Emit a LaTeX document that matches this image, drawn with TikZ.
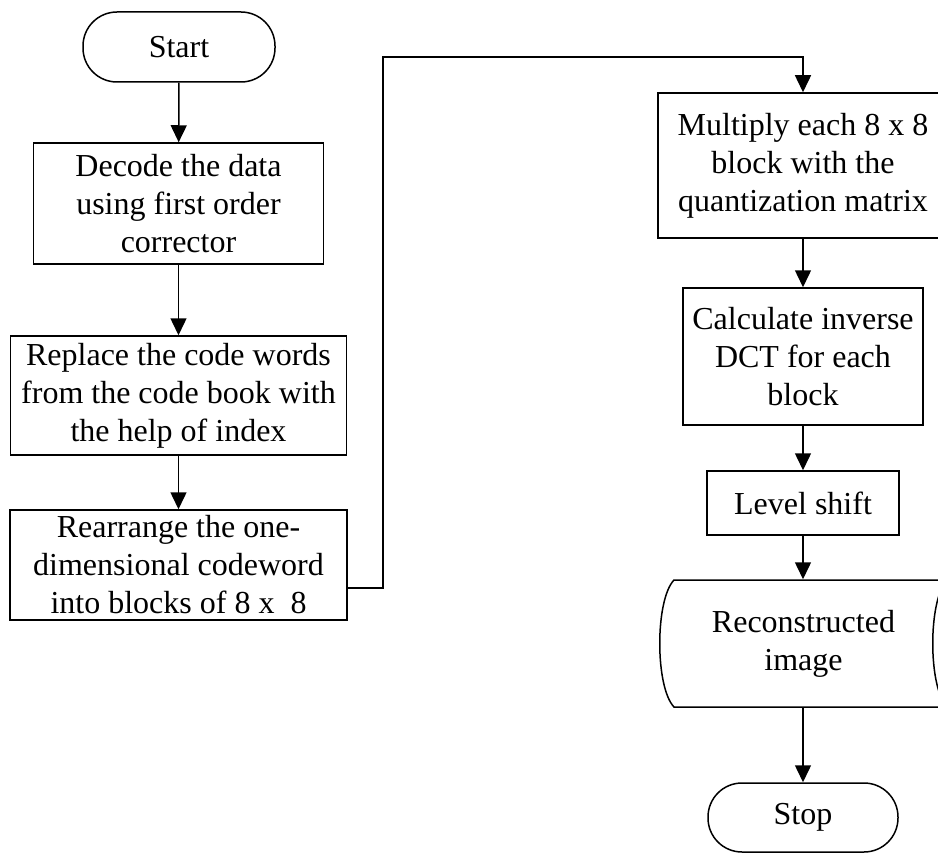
\documentclass[tikz,border=0pt]{standalone}
\usepackage{fontspec}
\setmainfont{Liberation Serif}
\usetikzlibrary{arrows.meta}
\begin{document}
\begin{tikzpicture}[x=1pt,y=-1pt,
  line width=1.5pt,
  font=\fontsize{32}{38}\selectfont,
  stepbox/.style={draw, rectangle, inner sep=0pt, align=center},
  term/.style={draw, rectangle, rounded corners=34pt, inner sep=0pt, align=center},
  flow/.style={-{Triangle[length=17pt,width=16pt]}}]
\clip (0,0) rectangle (938,856);

% left column
\node[term, minimum width=192pt, minimum height=70pt] (start) at (179,47) {Start};
\node[stepbox, minimum width=290pt, minimum height=121pt] (decode) at (178.5,203.5)
  {Decode the data\\using first order\\corrector};
\node[stepbox, minimum width=336pt, minimum height=119pt] (replace) at (178.5,395.5)
  {Replace the code words\\from the code book with\\the help of index};
\node[stepbox, minimum width=337pt, minimum height=110pt] (rearr) at (178.5,565)
  {Rearrange the one-\\dimensional codeword\\into blocks of 8 x\ \ 8};

% right column
\node[stepbox, minimum width=290pt, minimum height=145pt] (mult) at (803,165.5)
  {Multiply each 8 x 8\\block with the\\quantization matrix};
\node[stepbox, minimum width=240pt, minimum height=137pt] (idct) at (803,356.5)
  {Calculate inverse\\DCT for each\\block};
\node[stepbox, minimum width=192pt, minimum height=64pt] (level) at (803,503)
  {Level shift};
\node[inner sep=0pt, minimum width=287pt, minimum height=127pt, align=center] (recon) at (803.5,643.5)
  {Reconstructed\\image};
\node[term, minimum width=190pt, minimum height=69pt] (stop) at (803,817.5) {Stop};

% stored-data outline around the output node
\draw (674,580) -- (947,580)
      .. controls (928,600) and (928,687) .. (947,707)
      -- (674,707)
      .. controls (655,687) and (655,600) .. (674,580) -- cycle;

% connectors
\coordinate (turn) at (383,57);
\draw[flow] (start) -- (decode);
\draw[flow] (decode) -- (replace);
\draw[flow] (replace) -- (rearr);
\draw[flow] ([yshift=-23pt]rearr.east) -| (turn) -| (mult.north);
\draw[flow] (mult) -- (idct);
\draw[flow] (idct) -- (level);
\draw[flow] (level.south) -- (level.south |- recon.north);
\draw[flow] (recon.south -| stop.north) -- (stop.north);
\end{tikzpicture}
\end{document}
